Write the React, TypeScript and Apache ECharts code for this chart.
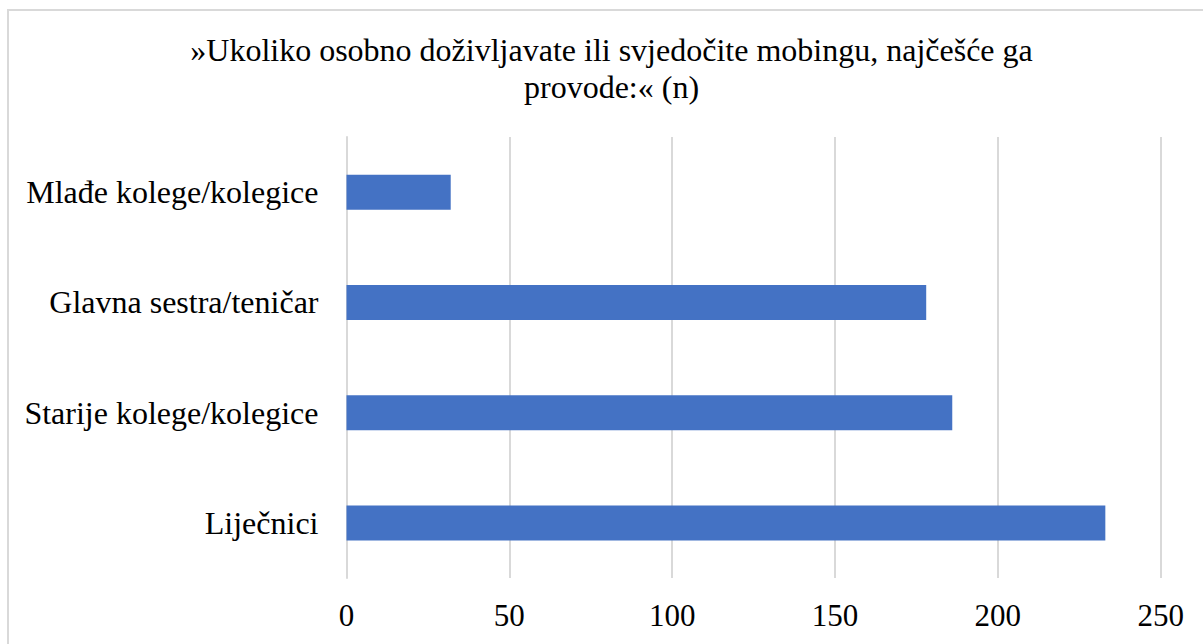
import React, { useEffect, useRef } from "react";
import * as echarts from "echarts";

const titleText = "»Ukoliko osobno doživljavate ili svjedočite mobingu, najčešće ga\nprovode:« (n)";
const categories = ["Liječnici", "Starije kolege/kolegice", "Glavna sestra/teničar", "Mlađe kolege/kolegice"];
const values = [233, 186, 178, 32];
const axisMin = 0;
const axisMax = 250;
const axisInterval = 50;

const FONT = "Liberation Serif";

export default function App() {
  const ref = useRef<HTMLDivElement>(null);
  useEffect(() => {
    document.body.style.margin = "0";
    const chart = echarts.init(ref.current!, undefined, { renderer: "svg" });
    chart.setOption({
      animation: false,
      backgroundColor: "#ffffff",
      title: {
        text: titleText,
        left: 611.5,
        top: 31,
        textAlign: "center",
        padding: 0,
        textStyle: { fontFamily: FONT, fontSize: 32, fontWeight: "normal", color: "#000", lineHeight: 37 },
      },
      graphic: [
        {
          type: "rect",
          shape: { x: 8, y: 10, width: 1400, height: 800 },
          style: { fill: "none", stroke: "#d9d9d9", lineWidth: 2 },
          silent: true,
        },
      ],
      grid: { left: 346.5, right: 42.3, top: 137, bottom: 66, containLabel: false },
      xAxis: {
        type: "value",
        min: axisMin,
        max: axisMax,
        interval: axisInterval,
        axisLine: { show: false },
        axisTick: { show: false },
        splitLine: { show: true, lineStyle: { color: "#d9d9d9", width: 2 } },
        axisLabel: { fontFamily: FONT, fontSize: 31, color: "#000", margin: 22 },
      },
      yAxis: {
        type: "category",
        data: categories,
        axisLine: { show: true, lineStyle: { color: "#d9d9d9", width: 2 } },
        axisTick: { show: false },
        axisLabel: { fontFamily: FONT, fontSize: 32, color: "#000", margin: 28 },
      },
      series: [
        {
          type: "bar",
          data: values,
          barWidth: 35,
          itemStyle: { color: "#4472c4" },
        },
      ],
    });
    return () => chart.dispose();
  }, []);
  return <div ref={ref} style={{ width: 1203, height: 644 }} />;
}
